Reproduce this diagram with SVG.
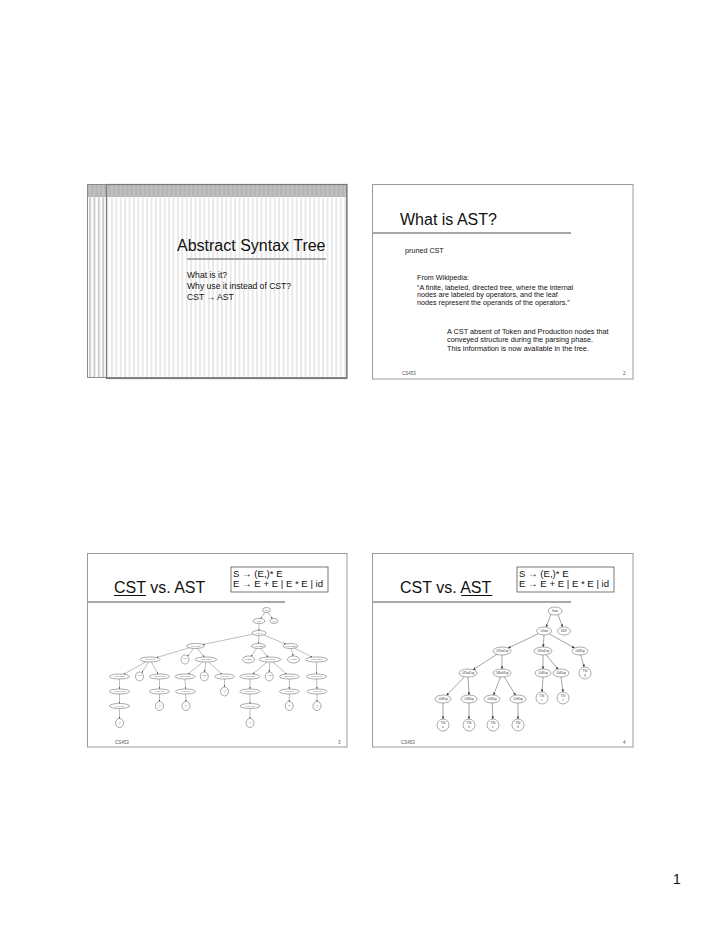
<svg xmlns="http://www.w3.org/2000/svg" width="720" height="932" viewBox="0 0 720 932">
<style>
.frame{fill:#fff;stroke:#9a9a9a;stroke-width:1}
.rule{stroke:#a8a8a8;stroke-width:2}
.sans{font-family:"Liberation Sans",Arial,sans-serif;fill:#111}
.title{font-size:16px}
.foot{font-size:4.5px;fill:#555}
.box{fill:#fff;stroke:#555;stroke-width:0.8}
.n{fill:#fff;stroke:#444;stroke-width:0.45}
.lab{font-family:"Liberation Serif","Times New Roman",serif;font-size:3.1px;fill:#333;text-anchor:middle}
.labs{font-family:"Liberation Serif","Times New Roman",serif;font-size:1.9px;fill:#444;text-anchor:middle}
.e{stroke:#333;stroke-width:0.45;fill:none;marker-end:url(#ah)}
.es{stroke:#444;stroke-width:0.35;fill:none;marker-end:url(#ahs)}
</style>
<defs>
<pattern id="st" width="4.4" height="10" patternUnits="userSpaceOnUse" x="1"><rect width="1.8" height="10" fill="#e8e8e8"/></pattern>
<pattern id="st2" width="4.4" height="10" patternUnits="userSpaceOnUse" x="1"><rect width="2" height="10" fill="#cccccc"/></pattern>
<marker id="ah" viewBox="0 0 10 10" refX="10" refY="5" markerWidth="2.6" markerHeight="2.6" markerUnits="userSpaceOnUse" orient="auto"><path d="M0,0L10,5L0,10z" fill="#333"/></marker>
<marker id="ahs" viewBox="0 0 10 10" refX="10" refY="5" markerWidth="1.8" markerHeight="1.8" markerUnits="userSpaceOnUse" orient="auto"><path d="M0,0L10,5L0,10z" fill="#444"/></marker>
</defs>
<rect width="720" height="932" fill="#fff"/>

<!-- Slide 1 -->
<g id="slide1">
<rect x="87" y="184" width="260" height="194" fill="#fff"/>
<rect x="87" y="184" width="19" height="194" fill="url(#st2)"/>
<rect x="106" y="184" width="241" height="195" fill="url(#st)"/>
<rect x="87" y="184" width="260" height="13" fill="#b4b4b4"/>
<rect x="87" y="184" width="260" height="13" fill="url(#st2)" opacity="0.5"/>
<rect x="87.5" y="184.5" width="259" height="193" fill="none" stroke="#8a8a8a" stroke-width="1"/>
<rect x="106.5" y="184.5" width="240.5" height="194" fill="none" stroke="#7a7a7a" stroke-width="1.2"/>
<text class="sans title" x="177" y="251">Abstract Syntax Tree</text>
<line class="rule" x1="187" y1="259" x2="326" y2="259"/>
<text class="sans" font-size="8.6" x="187" y="278">What is it?</text>
<text class="sans" font-size="8.6" x="187" y="289">Why use it instead of CST?</text>
<text class="sans" font-size="8.6" x="187" y="300">CST → AST</text>
</g>

<!-- Slide 2 -->
<g id="slide2">
<rect class="frame" x="372.5" y="184.5" width="260.5" height="194.5"/>
<text class="sans title" x="400" y="225">What is AST?</text>
<line class="rule" x1="372" y1="233" x2="571" y2="233"/>
<text class="sans" font-size="7.2" x="405" y="253">pruned CST</text>
<text class="sans" font-size="7.2" x="417" y="280">From Wikipedia:</text>
<text class="sans" font-size="7.2" x="417" y="289.5">“A finite, labeled, directed tree, where the internal</text>
<text class="sans" font-size="7.2" x="417" y="297">nodes are labeled by operators, and the leaf</text>
<text class="sans" font-size="7.2" x="417" y="304.5">nodes represent the operands of the operators.”</text>
<text class="sans" font-size="7.3" x="447" y="333.5">A CST absent of Token and Production nodes that</text>
<text class="sans" font-size="7.3" x="447" y="342">conveyed structure during the parsing phase.</text>
<text class="sans" font-size="7.3" x="447" y="350.5">This information is now available in the tree.</text>
<text class="sans foot" x="402" y="375">CS453</text>
<text class="sans foot" x="623" y="375">2</text>
</g>

<!-- Slide 3 -->
<g id="slide3">
<rect class="frame" x="87.5" y="553.5" width="259.5" height="193.5"/>
<text class="sans title" x="114" y="593">CST vs. AST</text>
<line x1="114" y1="595.5" x2="146" y2="595.5" stroke="#111" stroke-width="1"/>
<line class="rule" x1="87" y1="602" x2="285" y2="602"/>
<rect class="box" x="231" y="567" width="97" height="25"/>
<text class="sans" font-size="9.6" x="233" y="577">S → (E,)* E</text>
<text class="sans" font-size="9.6" x="233" y="587">E → E + E | E * E | id</text>
<text class="sans foot" x="115" y="744">CS453</text>
<text class="sans foot" x="338" y="744">3</text>
</g>

<g id="cst-edges">
<path class="es" d="M264.9,612.3L260.6,618.6"/>
<path class="es" d="M268.1,612.3L272.4,618.7"/>
<path class="es" d="M259,623.5L259,630.5"/>
<path class="es" d="M252.9,634.2L202.8,644.5"/>
<path class="es" d="M259,635.5L258.5,643.5"/>
<path class="es" d="M263.6,634.9L285.8,644.1"/>
<path class="es" d="M189.4,647.8L156.4,657.6"/>
<path class="es" d="M193.6,648.4L187.6,656.1"/>
<path class="es" d="M197.4,648.4L204.1,657"/>
<path class="es" d="M256.7,648.4L250.9,656.3"/>
<path class="es" d="M260.5,648.4L267.9,657"/>
<path class="es" d="M291,648.5L293.2,656"/>
<path class="es" d="M294.6,648.1L312.1,657.2"/>
<path class="es" d="M145.9,661.8L123.6,674.2"/>
<path class="es" d="M148.5,662L141.8,672.8"/>
<path class="es" d="M151.4,662L158.1,674"/>
<path class="es" d="M203,661.9L188,674.1"/>
<path class="es" d="M205.8,662L204.5,672"/>
<path class="es" d="M208.6,661.9L221.9,674.1"/>
<path class="es" d="M267.2,661.9L252.8,674.1"/>
<path class="es" d="M269.9,662L269.3,672"/>
<path class="es" d="M272.8,661.9L286.6,674.1"/>
<path class="es" d="M316.5,662L316.5,674"/>
<path class="es" d="M119.5,679L119.5,689"/>
<path class="es" d="M159.5,679L159.5,689"/>
<path class="es" d="M185,679L185.5,689"/>
<path class="es" d="M224.5,679L224.5,687"/>
<path class="es" d="M250,679L250,689"/>
<path class="es" d="M289.3,679L289.3,689"/>
<path class="es" d="M316.5,679L317,689"/>
<path class="es" d="M119.5,694L119.5,703.5"/>
<path class="es" d="M159.5,694L159.5,701.5"/>
<path class="es" d="M185.6,694L186,701.5"/>
<path class="es" d="M250,694L250,703.5"/>
<path class="es" d="M289.3,694L289.3,701.5"/>
<path class="es" d="M317,694L317,701.5"/>
<path class="es" d="M119.5,708.5L119.5,718.5"/>
<path class="es" d="M250,708.5L250,718.5"/>
</g>

<g id="cst-nodes">
<g id="c0"><ellipse class="n" cx="266.5" cy="610" rx="4" ry="2.5"/><text class="labs" x="266.5" y="610.7">Start</text></g>
<g id="c1"><ellipse class="n" cx="259" cy="621" rx="6" ry="2.5"/><text class="labs" x="259" y="621.7">PStmt</text></g>
<g id="c2"><ellipse class="n" cx="274" cy="621" rx="4" ry="2.5"/><text class="labs" x="274" y="621.7">EOF</text></g>
<g id="c3"><ellipse class="n" cx="259" cy="633" rx="7" ry="2.5"/><text class="labs" x="259" y="633.7">PExpList</text></g>
<g id="c4a"><ellipse class="n" cx="195.5" cy="646" rx="9" ry="2.5"/><text class="labs" x="195.5" y="646.7">PExpComma</text></g>
<g id="c4b"><ellipse class="n" cx="258.5" cy="646" rx="7" ry="2.5"/><text class="labs" x="258.5" y="646.7">PExpComma</text></g>
<g id="c4c"><ellipse class="n" cx="290.5" cy="646" rx="7.5" ry="2.5"/><text class="labs" x="290.5" y="646.7">PExpComma</text></g>
<g id="c5a"><ellipse class="n" cx="150" cy="659.5" rx="10" ry="2.5"/><text class="labs" x="150" y="660.2">PPlusExpPlus</text></g>
<g id="c5b"><ellipse class="n" cx="185" cy="659.5" rx="4" ry="4.5"/><text class="labs" x="185" y="659.2">TPlus</text><text class="labs" x="185" y="661.3">+</text></g>
<g id="c5c"><ellipse class="n" cx="206" cy="659.5" rx="11" ry="2.5"/><text class="labs" x="206" y="660.2">PPlusExpMult</text></g>
<g id="c5d"><ellipse class="n" cx="248.5" cy="659.5" rx="6" ry="3.5"/><text class="labs" x="248.5" y="660.2">TComma ,</text></g>
<g id="c5e"><ellipse class="n" cx="270" cy="659.5" rx="11" ry="2.5"/><text class="labs" x="270" y="660.2">PPlusExpPlus</text></g>
<g id="c5f"><ellipse class="n" cx="293.5" cy="659.5" rx="6" ry="3.5"/><text class="labs" x="293.5" y="660.2">TComma ,</text></g>
<g id="c5g"><ellipse class="n" cx="316.5" cy="659.5" rx="11" ry="2.5"/><text class="labs" x="316.5" y="660.2">PPlusExpMult</text></g>
<g id="c6a"><ellipse class="n" cx="119.5" cy="676.5" rx="10" ry="2.5"/><text class="labs" x="119.5" y="677.2">PPlusExpMult</text></g>
<g id="c6b"><ellipse class="n" cx="139.5" cy="676.5" rx="4" ry="4.5"/><text class="labs" x="139.5" y="676.2">TPlus</text><text class="labs" x="139.5" y="678.3">+</text></g>
<g id="c6c"><ellipse class="n" cx="159.5" cy="676.5" rx="10" ry="2.5"/><text class="labs" x="159.5" y="677.2">PMultExpFact</text></g>
<g id="c6d"><ellipse class="n" cx="185" cy="676.5" rx="10" ry="2.5"/><text class="labs" x="185" y="677.2">PMultExpMult</text></g>
<g id="c6e"><ellipse class="n" cx="204.3" cy="676.5" rx="4" ry="4.5"/><text class="labs" x="204.3" y="676.2">TMult</text><text class="labs" x="204.3" y="678.3">*</text></g>
<g id="c6f"><ellipse class="n" cx="224.5" cy="676.5" rx="10" ry="2.5"/><text class="labs" x="224.5" y="677.2">PFactExpId</text></g>
<g id="c6g"><ellipse class="n" cx="250" cy="676.5" rx="10" ry="2.5"/><text class="labs" x="250" y="677.2">PPlusExpMult</text></g>
<g id="c6h"><ellipse class="n" cx="269.2" cy="676.5" rx="4" ry="4.5"/><text class="labs" x="269.2" y="676.2">TPlus</text><text class="labs" x="269.2" y="678.3">+</text></g>
<g id="c6i"><ellipse class="n" cx="289.3" cy="676.5" rx="10" ry="2.5"/><text class="labs" x="289.3" y="677.2">PMultExpFact</text></g>
<g id="c6j"><ellipse class="n" cx="316.5" cy="676.5" rx="10" ry="2.5"/><text class="labs" x="316.5" y="677.2">PMultExpFact</text></g>
<g id="c7a"><ellipse class="n" cx="119.5" cy="691.5" rx="10" ry="2.5"/><text class="labs" x="119.5" y="692.2">PMultExpFact</text></g>
<g id="c7b"><ellipse class="n" cx="159.5" cy="691.5" rx="10" ry="2.5"/><text class="labs" x="159.5" y="692.2">PFactExpId</text></g>
<g id="c7c"><ellipse class="n" cx="185.5" cy="691.5" rx="10" ry="2.5"/><text class="labs" x="185.5" y="692.2">PFactExpId</text></g>
<g id="c7d"><ellipse class="n" cx="224.5" cy="691.5" rx="4" ry="4.5"/><text class="labs" x="224.5" y="691.2">TId</text><text class="labs" x="224.5" y="693.3">d</text></g>
<g id="c7e"><ellipse class="n" cx="250" cy="691.5" rx="10" ry="2.5"/><text class="labs" x="250" y="692.2">PMultExpFact</text></g>
<g id="c7f"><ellipse class="n" cx="289.3" cy="691.5" rx="10" ry="2.5"/><text class="labs" x="289.3" y="692.2">PFactExpId</text></g>
<g id="c7g"><ellipse class="n" cx="317" cy="691.5" rx="10" ry="2.5"/><text class="labs" x="317" y="692.2">PFactExpId</text></g>
<g id="c8a"><ellipse class="n" cx="119.5" cy="706" rx="10" ry="2.5"/><text class="labs" x="119.5" y="706.7">PFactExpId</text></g>
<g id="c8b"><ellipse class="n" cx="159.5" cy="706" rx="4" ry="4.5"/><text class="labs" x="159.5" y="705.7">TId</text><text class="labs" x="159.5" y="707.8">b</text></g>
<g id="c8c"><ellipse class="n" cx="186" cy="706" rx="4" ry="4.5"/><text class="labs" x="186" y="705.7">TId</text><text class="labs" x="186" y="707.8">c</text></g>
<g id="c8d"><ellipse class="n" cx="250" cy="706" rx="10" ry="2.5"/><text class="labs" x="250" y="706.7">PFactExpId</text></g>
<g id="c8e"><ellipse class="n" cx="289.3" cy="706" rx="4" ry="4.5"/><text class="labs" x="289.3" y="705.7">TId</text><text class="labs" x="289.3" y="707.8">f</text></g>
<g id="c8f"><ellipse class="n" cx="317" cy="706" rx="4" ry="4.5"/><text class="labs" x="317" y="705.7">TId</text><text class="labs" x="317" y="707.8">g</text></g>
<g id="c9a"><ellipse class="n" cx="119.5" cy="723" rx="4" ry="4.5"/><text class="labs" x="119.5" y="722.7">TId</text><text class="labs" x="119.5" y="724.8">a</text></g>
<g id="c9b"><ellipse class="n" cx="250" cy="723" rx="4" ry="4.5"/><text class="labs" x="250" y="722.7">TId</text><text class="labs" x="250" y="724.8">e</text></g>
</g>

<!-- Slide 4 -->
<g id="slide4">
<rect class="frame" x="372.5" y="553.5" width="260.5" height="193.5"/>
<text class="sans title" x="400" y="593">CST vs. AST</text>
<line x1="461.3" y1="595.5" x2="492.4" y2="595.5" stroke="#111" stroke-width="1"/>
<line class="rule" x1="372" y1="602" x2="571" y2="602"/>
<rect class="box" x="517" y="567" width="97" height="25"/>
<text class="sans" font-size="9.6" x="519" y="577">S → (E,)* E</text>
<text class="sans" font-size="9.6" x="519" y="587">E → E + E | E * E | id</text>
<text class="sans foot" x="401" y="744">CS453</text>
<text class="sans foot" x="623" y="744">4</text>
</g>

<g id="ast-edges">
<path class="e" d="M551,614.5L546,627"/>
<path class="e" d="M558,614.5L562.5,627"/>
<path class="e" d="M538.4,633.7L508.1,648.1"/>
<path class="e" d="M544,635L543.2,647"/>
<path class="e" d="M549.2,633.9L574.6,648"/>
<path class="e" d="M496.9,654.3L473.1,669.7"/>
<path class="e" d="M502,655L502,669"/>
<path class="e" d="M543,655L543,669"/>
<path class="e" d="M546.1,654.8L558,669.3"/>
<path class="e" d="M580.7,655L584.2,667"/>
<path class="e" d="M464.5,676.7L446.5,695.4"/>
<path class="e" d="M468,677L469,695"/>
<path class="e" d="M500.5,676.8L493.5,695.2"/>
<path class="e" d="M504.4,676.9L515.6,695.2"/>
<path class="e" d="M543,677L542,692"/>
<path class="e" d="M561,677L563,692"/>
<path class="e" d="M443,703L443,719"/>
<path class="e" d="M469,703L469,719"/>
<path class="e" d="M492.3,703L492.8,719"/>
<path class="e" d="M518,703L518,719"/>
</g>

<g id="ast-nodes">
<g id="a-start"><ellipse class="n" cx="555" cy="611" rx="7" ry="4"/><text class="lab" x="555" y="612">Start</text></g>
<g id="a-stmt"><ellipse class="n" cx="544" cy="631" rx="7.5" ry="4"/><text class="lab" x="544" y="632">AStmt</text></g>
<g id="a-eof"><ellipse class="n" cx="564" cy="631" rx="6.5" ry="4"/><text class="lab" x="564" y="632">EOF</text></g>
<g id="a-plus1"><ellipse class="n" cx="502" cy="651" rx="9" ry="4"/><text class="lab" x="502" y="652">APlusExp</text></g>
<g id="a-plus2"><ellipse class="n" cx="543" cy="651" rx="9" ry="4"/><text class="lab" x="543" y="652">APlusExp</text></g>
<g id="a-id1"><ellipse class="n" cx="580" cy="651" rx="8" ry="4"/><text class="lab" x="580" y="652">AIdExp</text></g>
<g id="a-plus3"><ellipse class="n" cx="468" cy="673" rx="9" ry="4"/><text class="lab" x="468" y="674">APlusExp</text></g>
<g id="a-mult"><ellipse class="n" cx="502" cy="673" rx="9" ry="4"/><text class="lab" x="502" y="674">AMultExp</text></g>
<g id="a-id2"><ellipse class="n" cx="543" cy="673" rx="8" ry="4"/><text class="lab" x="543" y="674">AIdExp</text></g>
<g id="a-id3"><ellipse class="n" cx="561" cy="673" rx="8" ry="4"/><text class="lab" x="561" y="674">AIdExp</text></g>
<g id="a-tg"><circle class="n" cx="585" cy="673" r="6"/><text class="lab" x="585" y="672.3">TId</text><text class="lab" x="585" y="675.6">g</text></g>
<g id="a-id4"><ellipse class="n" cx="443" cy="699" rx="8" ry="4"/><text class="lab" x="443" y="700">AIdExp</text></g>
<g id="a-id5"><ellipse class="n" cx="469" cy="699" rx="8" ry="4"/><text class="lab" x="469" y="700">AIdExp</text></g>
<g id="a-id6"><ellipse class="n" cx="492" cy="699" rx="8" ry="4"/><text class="lab" x="492" y="700">AIdExp</text></g>
<g id="a-id7"><ellipse class="n" cx="518" cy="699" rx="8" ry="4"/><text class="lab" x="518" y="700">AIdExp</text></g>
<g id="a-te"><circle class="n" cx="542" cy="698" r="6"/><text class="lab" x="542" y="697.3">TId</text><text class="lab" x="542" y="700.6">e</text></g>
<g id="a-tf"><circle class="n" cx="563" cy="698" r="6"/><text class="lab" x="563" y="697.3">TId</text><text class="lab" x="563" y="700.6">f</text></g>
<g id="a-ta"><circle class="n" cx="443" cy="725" r="6"/><text class="lab" x="443" y="724.3">TId</text><text class="lab" x="443" y="727.6">a</text></g>
<g id="a-tb"><circle class="n" cx="469" cy="725" r="6"/><text class="lab" x="469" y="724.3">TId</text><text class="lab" x="469" y="727.6">b</text></g>
<g id="a-tc"><circle class="n" cx="493" cy="725" r="6"/><text class="lab" x="493" y="724.3">TId</text><text class="lab" x="493" y="727.6">c</text></g>
<g id="a-td"><circle class="n" cx="518" cy="725" r="6"/><text class="lab" x="518" y="724.3">TId</text><text class="lab" x="518" y="727.6">d</text></g>
</g>

<text class="sans" font-size="14" x="673" y="884">1</text>
</svg>
